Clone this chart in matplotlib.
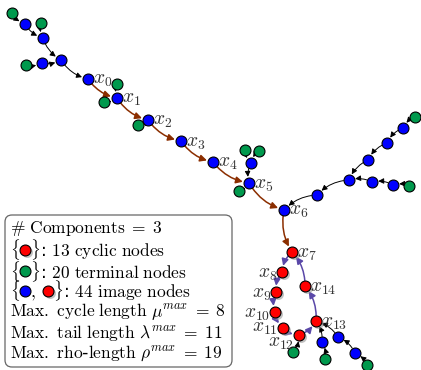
import matplotlib.pyplot as plt
from matplotlib.patches import FancyArrowPatch, FancyBboxPatch

plt.rcParams['mathtext.fontset'] = 'cm'

# node name -> position (pixel-like layout units) and type
node_names = ['t1', 't2', 't3', 't4', 't5', 't6', 't7',
              'x0', 'x1', 'x2', 'x3', 'x4', 'x5', 'x6', 'x7', 'x8', 'x9', 'x10',
              'x11', 'x12', 'x13', 'x14',
              'ga', 'gb', 'gc', 'ba', 'gd', 'ge', 'gf',
              'r1', 'r2', 'r3', 'r4', 'r5', 'g1', 'r6', 'r7', 'g2',
              'g3', 'b1', 'g4', 'b2', 'b3', 'g5']
node_x = [12, 25, 41, 43, 61, 42, 26,
          88, 117, 148, 181, 213, 249, 284, 292, 282, 276, 275,
          283, 299, 316, 305,
          117, 104, 138, 251, 245, 259, 239,
          317, 349, 368, 387, 403, 415, 372, 393, 409,
          293, 322, 325, 338, 355, 367]
node_y = [13, 24, 23, 38, 60, 63, 65,
          79, 98, 120, 141, 162, 183, 210, 252, 272, 292, 312,
          328, 335, 321, 286,
          84, 102, 125, 163, 150, 151, 191,
          195, 180, 160, 143, 128, 117, 182, 185, 186,
          352, 342, 359, 337, 353, 365]
node_kind = ['g', 'b', 'g', 'b', 'b', 'b', 'g',
             'b', 'b', 'b', 'b', 'b', 'b', 'b', 'r', 'r', 'r', 'r',
             'r', 'r', 'r', 'r',
             'g', 'g', 'g', 'b', 'g', 'g', 'g',
             'b', 'b', 'b', 'b', 'b', 'g', 'b', 'b', 'g',
             'g', 'b', 'g', 'b', 'b', 'g']

tree_edges = [('t1', 't2'), ('t2', 't4'), ('t3', 't4'), ('t4', 't5'), ('t7', 't6'),
              ('t6', 't5'), ('t5', 'x0'), ('ga', 'x1'), ('gb', 'x1'), ('gc', 'x2'),
              ('gd', 'ba'), ('ge', 'ba'), ('ba', 'x5'), ('gf', 'x5'),
              ('r1', 'x6'), ('r2', 'r1'), ('r3', 'r2'), ('r4', 'r3'), ('r5', 'r4'),
              ('g1', 'r5'), ('r6', 'r2'), ('r7', 'r6'), ('g2', 'r7'),
              ('g3', 'x12'), ('b1', 'x13'), ('g4', 'b1'), ('b2', 'x13'),
              ('b3', 'b2'), ('g5', 'b3')]
tail_path = ['x0', 'x1', 'x2', 'x3', 'x4', 'x5', 'x6', 'x7']
cycle_path = ['x7', 'x8', 'x9', 'x10', 'x11', 'x12', 'x13', 'x14', 'x7']

label_right = ['x0', 'x1', 'x2', 'x3', 'x4', 'x5', 'x6', 'x7', 'x14', 'x13']
label_left = ['x8', 'x9', 'x10', 'x11', 'x12']

gap = '\\enspace\\,'
legend_lines = ['$\\#\\ \\mathrm{Components}\\;=\\;3$',
                '$\\{' + gap + '\\}$: $\\mathrm{13\\ cyclic\\ nodes}$',
                '$\\{' + gap + '\\}$: $\\mathrm{20\\ terminal\\ nodes}$',
                '$\\{' + gap + ',\\ ' + gap + '\\}$: $\\mathrm{44\\ image\\ nodes}$',
                '$\\mathrm{Max.\\ cycle\\ length}\\ \\mu^{max}\\;=\\;8$',
                '$\\mathrm{Max.\\ tail\\ length}\\ \\lambda^{max}\\;=\\;11$',
                '$\\mathrm{Max.\\ rho}$-$\\mathrm{length}\\ \\rho^{max}\\;=\\;19$']
# marker kinds in each legend line; the braced group they sit in
legend_marks = {1: ['r'], 2: ['g'], 3: ['b', 'r']}

colors = {'g': '#00994d', 'b': '#0000ff', 'r': '#ff0000'}
pos = {n: (x, y) for n, x, y in zip(node_names, node_x, node_y)}

fig = plt.figure(figsize=(4.21, 3.70), dpi=100)
ax = fig.add_axes([0, 0, 1, 1])
ax.set_xlim(0, 421)
ax.set_ylim(370, 0)
ax.axis('off')
renderer = fig.canvas.get_renderer()


def edge(a, b, color, lw, ms):
    p = FancyArrowPatch(pos[a], pos[b], arrowstyle='-|>', mutation_scale=ms,
                        connectionstyle='arc3,rad=0.2', shrinkA=4, shrinkB=4.5,
                        color=color, lw=lw, zorder=1)
    ax.add_patch(p)


def node(x, y, k, z):
    if k == 'r':
        ax.scatter(x + 1.8, y + 1.8, s=62, color='#999999', alpha=0.6, lw=0, zorder=z)
    ax.scatter(x, y, s=62, color=colors[k], edgecolor='black', lw=0.8, zorder=z + 0.5)


def width(s, fs):
    t = ax.text(0, 0, s, fontsize=fs)
    w = t.get_window_extent(renderer).width
    t.remove()
    return w


for a, b in tree_edges:
    edge(a, b, 'black', 0.7, 8)
for a, b in zip(tail_path[:-1], tail_path[1:]):
    edge(a, b, '#8b2e00', 1.1, 10)
for a, b in zip(cycle_path[:-1], cycle_path[1:]):
    edge(a, b, '#5a48a8', 1.1, 10)

for x, y, k in zip(node_x, node_y, node_kind):
    node(x, y, k, 2)

for n in label_right:
    x, y = pos[n]
    ax.text(x + 5, y + 1, '$x_{%s}$' % n[1:], fontsize=14, ha='left', va='center', color='#333333')
for n in label_left:
    x, y = pos[n]
    dy = {'x11': -1, 'x12': 7}.get(n, 1)
    ax.text(x - 5, y + dy, '$x_{%s}$' % n[1:], fontsize=14, ha='right', va='center', color='#333333')

# legend box
ax.add_patch(FancyBboxPatch((5, 215), 227, 152, boxstyle='round,pad=0,rounding_size=7',
                            fc='white', ec='#666666', lw=0.9, zorder=4))
fs = 12.5
lx = 10
line_y = [229, 250, 271, 291, 312, 333, 353]
w_open = width('$\\{$', fs)
w_close = width('$\\}$', fs)
w_gap = width('$\\{' + gap + '\\}$', fs) - w_open - w_close
w_two = width('$\\{' + gap + ',\\ ' + gap + '\\}$', fs)
for i, (t, y) in enumerate(zip(legend_lines, line_y)):
    ax.text(lx, y, t, fontsize=fs, va='center', zorder=5)
    marks = legend_marks.get(i, [])
    if len(marks) == 1:
        node(lx + w_open + w_gap / 2, y, marks[0], 6)
    elif len(marks) == 2:
        node(lx + w_open + w_gap / 2, y, marks[0], 6)
        node(lx + w_two - w_close - w_gap / 2, y, marks[1], 6)

fig.savefig('out.png', dpi=100)
